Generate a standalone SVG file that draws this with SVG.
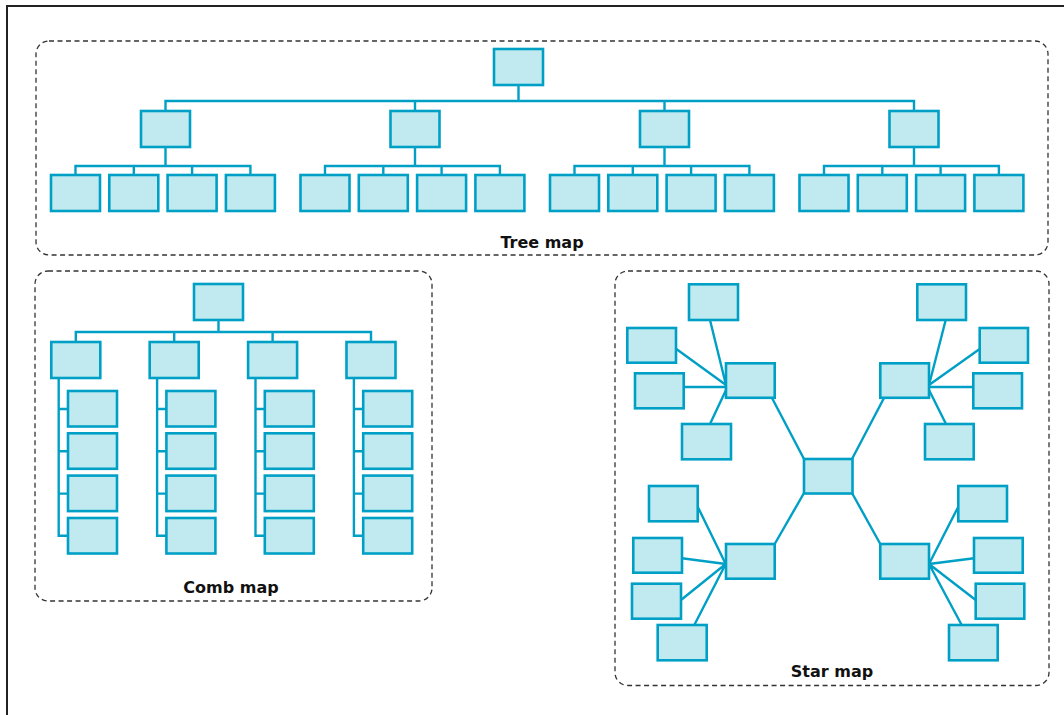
<svg xmlns="http://www.w3.org/2000/svg" width="1064" height="715" viewBox="0 0 1064 715">
<style>
.n{fill:#c0eaf0;stroke:#00a0c6;stroke-width:2.6}
.c{fill:none;stroke:#00a0c6;stroke-width:2.4}
.frame{fill:none;stroke:#333;stroke-width:1.3;stroke-dasharray:5 3.5}
.lbl{font-family:"DejaVu Sans",sans-serif;font-weight:bold;font-size:16px;fill:#111;text-anchor:middle}
</style>
<rect x="7" y="6" width="1100" height="760" fill="#fff" stroke="#222" stroke-width="2"/>

<g id="tree-map">
<rect class="frame" x="36" y="41" width="1012" height="214" rx="13"/>
<text class="lbl" x="542" y="247.5">Tree map</text>
<g id="tree-connectors">
<path class="c" d="M518.5 85V101M165.5 111V101H914V111M415 101V111M664.5 101V111"/>
<path class="c" d="M165.5 147V166M75.5 175V166H250.4V175M133.8 166V175M192.1 166V175"/>
<path class="c" d="M415 147V166M325 175V166H499.9V175M383.3 166V175M441.6 166V175"/>
<path class="c" d="M664.5 147V166M574.5 175V166H749.4V175M632.8 166V175M691.1 166V175"/>
<path class="c" d="M914 147V166M824 175V166H998.9V175M882.3 166V175M940.6 166V175"/>
</g>
<g id="tree-root"><rect class="n" x="494" y="49" width="49" height="36"/></g>
<g id="tree-m1"><rect class="n" x="141" y="111" width="49" height="36"/></g>
<g id="tree-m2"><rect class="n" x="390.5" y="111" width="49" height="36"/></g>
<g id="tree-m3"><rect class="n" x="640" y="111" width="49" height="36"/></g>
<g id="tree-m4"><rect class="n" x="889.5" y="111" width="49" height="36"/></g>
<g id="tree-l1a"><rect class="n" x="51" y="175" width="49" height="36"/></g>
<g id="tree-l1b"><rect class="n" x="109.3" y="175" width="49" height="36"/></g>
<g id="tree-l1c"><rect class="n" x="167.6" y="175" width="49" height="36"/></g>
<g id="tree-l1d"><rect class="n" x="225.9" y="175" width="49" height="36"/></g>
<g id="tree-l2a"><rect class="n" x="300.5" y="175" width="49" height="36"/></g>
<g id="tree-l2b"><rect class="n" x="358.8" y="175" width="49" height="36"/></g>
<g id="tree-l2c"><rect class="n" x="417.1" y="175" width="49" height="36"/></g>
<g id="tree-l2d"><rect class="n" x="475.4" y="175" width="49" height="36"/></g>
<g id="tree-l3a"><rect class="n" x="550" y="175" width="49" height="36"/></g>
<g id="tree-l3b"><rect class="n" x="608.3" y="175" width="49" height="36"/></g>
<g id="tree-l3c"><rect class="n" x="666.6" y="175" width="49" height="36"/></g>
<g id="tree-l3d"><rect class="n" x="724.9" y="175" width="49" height="36"/></g>
<g id="tree-l4a"><rect class="n" x="799.5" y="175" width="49" height="36"/></g>
<g id="tree-l4b"><rect class="n" x="857.8" y="175" width="49" height="36"/></g>
<g id="tree-l4c"><rect class="n" x="916.1" y="175" width="49" height="36"/></g>
<g id="tree-l4d"><rect class="n" x="974.4" y="175" width="49" height="36"/></g>
</g>

<g id="comb-map">
<rect class="frame" x="35" y="271" width="397" height="330" rx="13"/>
<text class="lbl" x="231" y="593">Comb map</text>
<g id="comb-connectors">
<path class="c" d="M218.5 320V332M75.8 342V332H371V342M174.2 332V342M272.6 332V342"/>
<path class="c" d="M58.7 378V535.7H68M58.7 409H68M58.7 451.3H68M58.7 493.6H68"/>
<path class="c" d="M157.1 378V535.7H166.4M157.1 409H166.4M157.1 451.3H166.4M157.1 493.6H166.4"/>
<path class="c" d="M255.5 378V535.7H264.8M255.5 409H264.8M255.5 451.3H264.8M255.5 493.6H264.8"/>
<path class="c" d="M353.9 378V535.7H363.2M353.9 409H363.2M353.9 451.3H363.2M353.9 493.6H363.2"/>
</g>
<g id="comb-root"><rect class="n" x="194" y="284" width="49" height="36"/></g>
<g id="comb-m1"><rect class="n" x="51.3" y="342" width="49" height="36"/></g>
<g id="comb-m2"><rect class="n" x="149.7" y="342" width="49" height="36"/></g>
<g id="comb-m3"><rect class="n" x="248.1" y="342" width="49" height="36"/></g>
<g id="comb-m4"><rect class="n" x="346.5" y="342" width="49" height="36"/></g>
<g id="comb-l1a"><rect class="n" x="68" y="391" width="49" height="35.5"/></g>
<g id="comb-l1b"><rect class="n" x="68" y="433.3" width="49" height="35.5"/></g>
<g id="comb-l1c"><rect class="n" x="68" y="475.6" width="49" height="35.5"/></g>
<g id="comb-l1d"><rect class="n" x="68" y="518" width="49" height="35.5"/></g>
<g id="comb-l2a"><rect class="n" x="166.4" y="391" width="49" height="35.5"/></g>
<g id="comb-l2b"><rect class="n" x="166.4" y="433.3" width="49" height="35.5"/></g>
<g id="comb-l2c"><rect class="n" x="166.4" y="475.6" width="49" height="35.5"/></g>
<g id="comb-l2d"><rect class="n" x="166.4" y="518" width="49" height="35.5"/></g>
<g id="comb-l3a"><rect class="n" x="264.8" y="391" width="49" height="35.5"/></g>
<g id="comb-l3b"><rect class="n" x="264.8" y="433.3" width="49" height="35.5"/></g>
<g id="comb-l3c"><rect class="n" x="264.8" y="475.6" width="49" height="35.5"/></g>
<g id="comb-l3d"><rect class="n" x="264.8" y="518" width="49" height="35.5"/></g>
<g id="comb-l4a"><rect class="n" x="363.2" y="391" width="49" height="35.5"/></g>
<g id="comb-l4b"><rect class="n" x="363.2" y="433.3" width="49" height="35.5"/></g>
<g id="comb-l4c"><rect class="n" x="363.2" y="475.6" width="49" height="35.5"/></g>
<g id="comb-l4d"><rect class="n" x="363.2" y="518" width="49" height="35.5"/></g>
</g>

<g id="star-map">
<rect class="frame" x="615" y="271" width="434" height="414.5" rx="13"/>
<text class="lbl" x="832" y="676.5">Star map</text>
<g id="star-connectors">
<path class="c" d="M772 398L804 459M884 398L852 459M804 493L774.7 544M852 493L880.3 544"/>
<path class="c" d="M710 320L726 385M676 348.7L726 385M683.7 387H726M710 424L726 390"/>
<path class="c" d="M945.7 320L929 385M980 348.7L929 385M973 387H929M946 424L929 390"/>
<path class="c" d="M697.7 506.7L725.7 564M682 558.3L725.7 564M681 600L725.7 564M694.3 625L725.7 564"/>
<path class="c" d="M958.3 506.7L929 564M974 558.3L929 564M975.7 600L929 564M961.7 625L929 564"/>
</g>
<g id="star-center"><rect class="n" x="804" y="459" width="48.5" height="34.5"/></g>
<g id="star-hub-ul"><rect class="n" x="726" y="363.3" width="48.7" height="34.5"/></g>
<g id="star-hub-ur"><rect class="n" x="880.3" y="363.3" width="48.7" height="34.5"/></g>
<g id="star-hub-ll"><rect class="n" x="726" y="544" width="48.7" height="34.7"/></g>
<g id="star-hub-lr"><rect class="n" x="880.3" y="544" width="48.7" height="34.7"/></g>
<g id="star-ul1"><rect class="n" x="689" y="284.3" width="49" height="35.7"/></g>
<g id="star-ul2"><rect class="n" x="627.3" y="328" width="48.7" height="34.7"/></g>
<g id="star-ul3"><rect class="n" x="635" y="373.3" width="48.7" height="35"/></g>
<g id="star-ul4"><rect class="n" x="682" y="424" width="49" height="35.3"/></g>
<g id="star-ur1"><rect class="n" x="917.3" y="284.3" width="48.7" height="35.7"/></g>
<g id="star-ur2"><rect class="n" x="979.7" y="328" width="48.3" height="34.7"/></g>
<g id="star-ur3"><rect class="n" x="973.3" y="373.3" width="48.7" height="35"/></g>
<g id="star-ur4"><rect class="n" x="925" y="424" width="48.7" height="35.3"/></g>
<g id="star-ll1"><rect class="n" x="649" y="486" width="48.7" height="35.3"/></g>
<g id="star-ll2"><rect class="n" x="633.3" y="538" width="48.7" height="34.7"/></g>
<g id="star-ll3"><rect class="n" x="632" y="583.7" width="49" height="35"/></g>
<g id="star-ll4"><rect class="n" x="657.7" y="625" width="49" height="35.3"/></g>
<g id="star-lr1"><rect class="n" x="958.3" y="486" width="48.7" height="35.3"/></g>
<g id="star-lr2"><rect class="n" x="974" y="538" width="48.7" height="34.7"/></g>
<g id="star-lr3"><rect class="n" x="975.7" y="583.7" width="48.6" height="35"/></g>
<g id="star-lr4"><rect class="n" x="949" y="625" width="48.7" height="35.3"/></g>
</g>
</svg>
